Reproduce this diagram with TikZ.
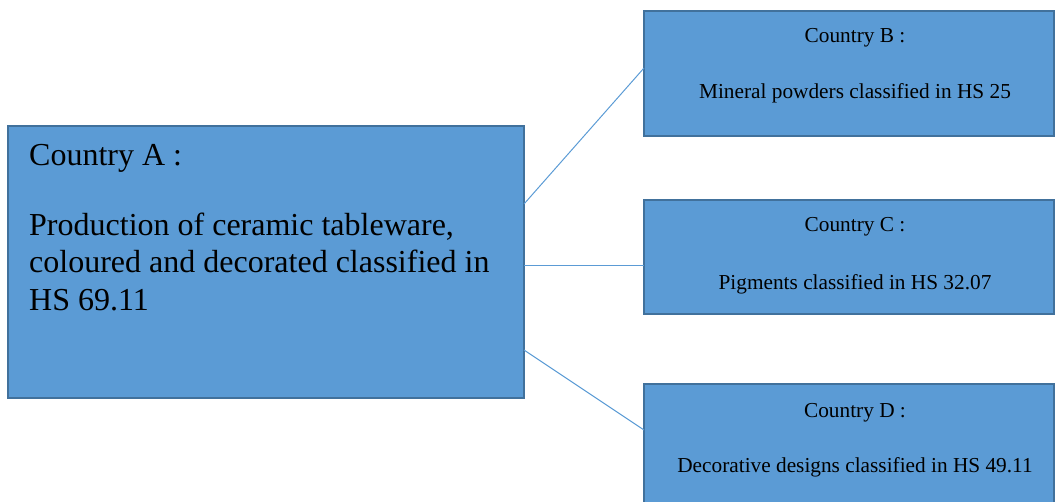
\documentclass[tikz,border=0pt]{standalone}
\usepackage{fontspec}
\setmainfont{Liberation Serif}
\usetikzlibrary{calc}
\definecolor{boxfill}{HTML}{5B9BD5}
\definecolor{boxline}{HTML}{41719C}
\definecolor{linkline}{HTML}{5B9BD5}
\tikzset{
  box/.style={draw=boxline, fill=boxfill, line width=2.5pt, inner sep=0pt, outer sep=0pt, anchor=north west},
  bigtext/.style={inner sep=0pt, font=\fontsize{32}{37.5}\selectfont, align=left, anchor=base west},
  smalltext/.style={inner sep=0pt, font=\fontsize{21.3}{24}\selectfont, anchor=base},
  link/.style={draw=linkline, line width=1pt}
}
\begin{document}
\begin{tikzpicture}[x=1pt,y=-1pt]
\useasboundingbox (0,0) rectangle (1056,502);
\clip (0,0) rectangle (1056,502);
% boxes
\node[box, minimum width=516pt, minimum height=272pt] (A) at (8,126) {};
\node[box, minimum width=410pt, minimum height=125pt] (B) at (644,11) {};
\node[box, minimum width=410pt, minimum height=114pt] (C) at (644,200) {};
\node[box, minimum width=410pt, minimum height=125pt] (D) at (644,384) {};
% connectors
\coordinate (a1) at ($(A.north east)+(0,78)$);
\coordinate (a2) at ($(A.north east)+(0,140)$);
\coordinate (a3) at ($(A.north east)+(0,224)$);
\coordinate (b1) at ($(B.north west)+(0,57)$);
\coordinate (c1) at ($(C.north west)+(0,66)$);
\coordinate (d1) at ($(D.north west)+(0,46)$);
\draw[link] (a1) -- (b1);
\draw[link] (a2) -- (c1);
\draw[link] (a3) -- (d1);
% texts
\node[bigtext] (tA1) at (29,166) {Country A :};
\node[bigtext] (tA2) at (29,310) {Production of ceramic tableware,\\coloured and decorated classified in\\HS 69.11};
\node[smalltext] (tB1) at (855,43) {Country B :};
\node[smalltext] (tB2) at (855,99) {Mineral powders classified in HS 25};
\node[smalltext] (tC1) at (855,232) {Country C :};
\node[smalltext] (tC2) at (855,289) {Pigments classified in HS 32.07};
\node[smalltext] (tD1) at (855,417) {Country D :};
\node[smalltext] (tD2) at (855,472) {Decorative designs classified in HS 49.11};
\end{tikzpicture}
\end{document}
